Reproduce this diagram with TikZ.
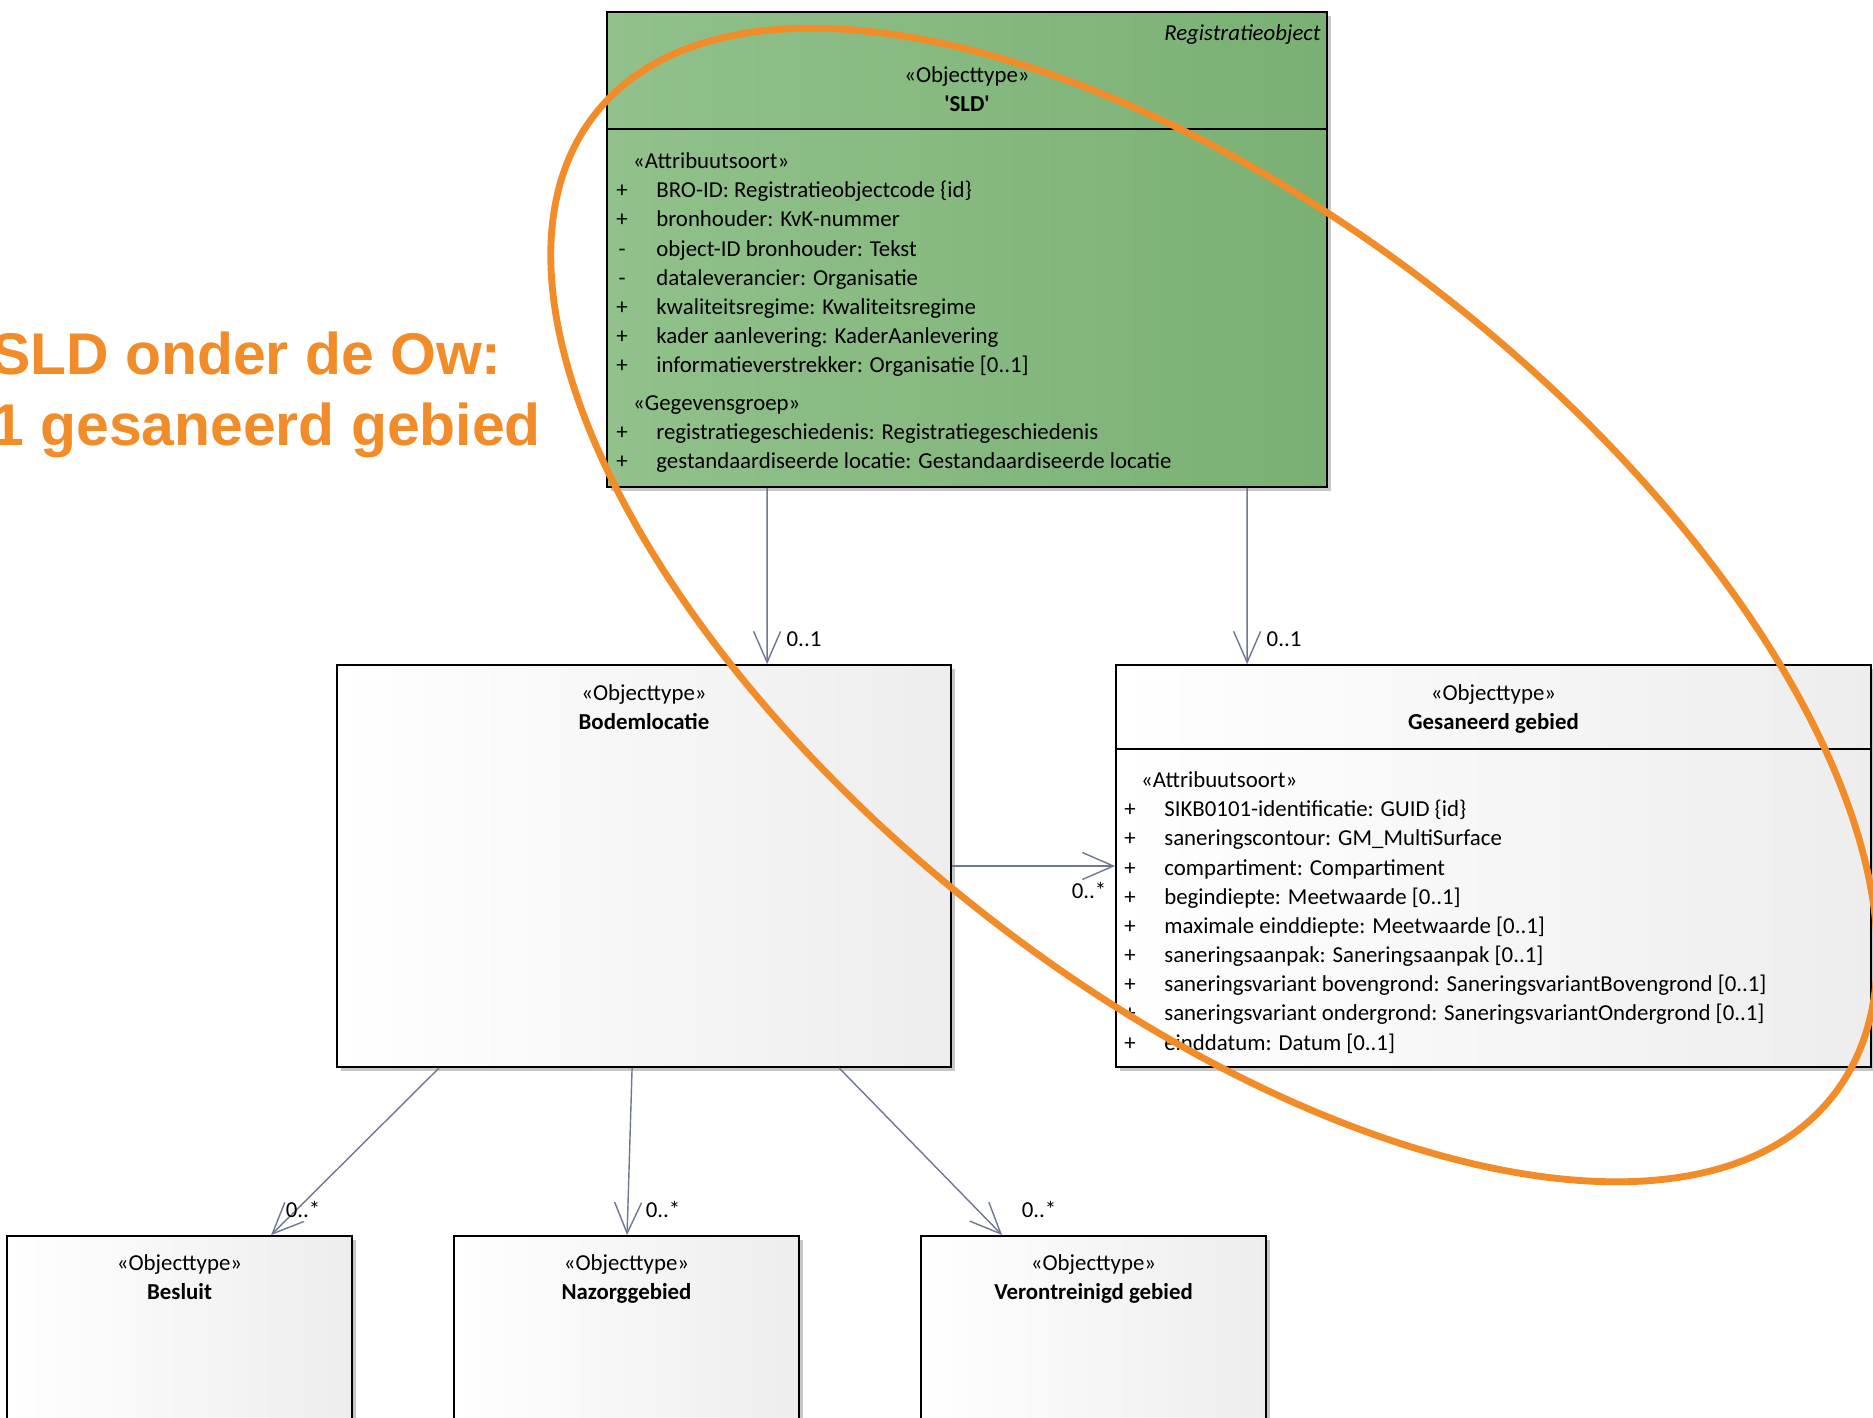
\documentclass[tikz,border=0pt]{standalone}
\usepackage{fontspec}
\setmainfont{Carlito}
\newfontfamily\slidefont{Liberation Sans}
\usepackage{tikz}
\usetikzlibrary{positioning}
\usetikzlibrary{arrows.meta}
\usetikzlibrary{calc}
\usetikzlibrary{shadows}
\usepackage{xcolor}
\definecolor{sldlight}{RGB}{146,193,140}
\definecolor{slddark}{RGB}{122,176,116}
\definecolor{assocgray}{RGB}{110,120,146}
\definecolor{accent}{RGB}{242,140,40}

\newcommand{\umlhead}[2]{\begin{tabular}[t]{@{}c@{}}«#1»\\\textbf{#2}\end{tabular}}

\begin{document}
\begin{tikzpicture}[
  x=0.02cm, y=-0.02cm,
  font=\fontsize{13}{16.6}\selectfont,
  class/.style={draw, line width=1.1pt, inner sep=0pt, left color=white, right color=black!7,
    drop shadow={shadow xshift=2.5pt, shadow yshift=-2.5pt, fill=black!22, opacity=1}},
  greenclass/.style={class, left color=sldlight, right color=slddark},
  head/.style={anchor=base, inner sep=0pt},
  attrs/.style={anchor=base west, inner sep=0pt},
  assoc/.style={-{Straight Barb[length=0.62cm, width=0.54cm]}, draw=assocgray, line width=0.8pt},
  mult/.style={inner sep=0pt},
  slogan/.style={anchor=base west, inner sep=0pt, text=accent, font=\slidefont\bfseries\fontsize{33.5}{40}\selectfont},
  ring/.style={draw=accent, line width=3.9pt}
]
\useasboundingbox[fill=white] (0,0) rectangle (1873,1417);

% classes
\node[greenclass, minimum width=14.4cm, minimum height=9.5cm] (sld) at (967,249.5) {};
\node[class, minimum width=12.28cm, minimum height=8.04cm] (bodem) at (644,866) {};
\node[class, minimum width=15.1cm, minimum height=8.04cm] (gesan) at (1493.5,866) {};
\node[class, minimum width=6.9cm, minimum height=4cm] (besluit) at (179.5,1336) {};
\node[class, minimum width=6.9cm, minimum height=4cm] (nazorg) at (626.5,1336) {};
\node[class, minimum width=6.9cm, minimum height=4cm] (veront) at (1093.5,1336) {};

\draw[line width=1.1pt] (sld.west |- 0,129) -- (sld.east |- 0,129);
\draw[line width=1.1pt] (gesan.west |- 0,749) -- (gesan.east |- 0,749);

% headers
\node[head, anchor=base east] (sldtag) at (1321,40) {\textit{Registratieobject}};
\node[head] (sldname) at (967,82.5) {\umlhead{Objecttype}{\textquotesingle SLD\textquotesingle}};
\node[head] (bodemname) at (644,700.5) {\umlhead{Objecttype}{Bodemlocatie}};
\node[head] (gesanname) at (1493.5,700.5) {\umlhead{Objecttype}{Gesaneerd gebied}};
\node[head] (besluitname) at (179.5,1270.5) {\umlhead{Objecttype}{Besluit}};
\node[head] (nazorgname) at (626.5,1270.5) {\umlhead{Objecttype}{Nazorggebied}};
\node[head] (verontname) at (1093.5,1270.5) {\umlhead{Objecttype}{Verontreinigd gebied}};

% attributes
\node[attrs] (sldattr) at (616,168.5) {\begin{tabular}[t]{@{}c@{\hspace{16.3pt}}l@{}}
\multicolumn{2}{@{\hspace{9.6pt}}l@{}}{«Attribuutsoort»}\\
+ & BRO-ID: Registratieobjectcode \{id\}\\
+ & bronhouder: KvK-nummer\\
- & object-ID bronhouder: Tekst\\
- & dataleverancier: Organisatie\\
+ & kwaliteitsregime: Kwaliteitsregime\\
+ & kader aanlevering: KaderAanlevering\\
+ & informatieverstrekker: Organisatie [0..1]\\[5pt]
\multicolumn{2}{@{\hspace{9.6pt}}l@{}}{«Gegevensgroep»}\\
+ & registratiegeschiedenis: Registratiegeschiedenis\\
+ & gestandaardiseerde locatie: Gestandaardiseerde locatie
\end{tabular}};

\node[attrs] (gesanattr) at (1124,787.5) {\begin{tabular}[t]{@{}c@{\hspace{16.3pt}}l@{}}
\multicolumn{2}{@{\hspace{9.6pt}}l@{}}{«Attribuutsoort»}\\
+ & SIKB0101-identificatie: GUID \{id\}\\
+ & saneringscontour: GM\_MultiSurface\\
+ & compartiment: Compartiment\\
+ & begindiepte: Meetwaarde [0..1]\\
+ & maximale einddiepte: Meetwaarde [0..1]\\
+ & saneringsaanpak: Saneringsaanpak [0..1]\\
+ & saneringsvariant bovengrond: SaneringsvariantBovengrond [0..1]\\
+ & saneringsvariant ondergrond: SaneringsvariantOndergrond [0..1]\\
+ & einddatum: Datum [0..1]
\end{tabular}};

% associations
\draw[assoc] ($(sld.south west)+(161,0)$) -- ($(bodem.north west)+(431,0)$);
\draw[assoc] ($(sld.south west)+(641,0)$) -- ($(gesan.north west)+(132,0)$);
\draw[assoc] (bodem.east) -- (gesan.west);
\draw[assoc] ($(bodem.south west)+(103,0)$) -- ($(besluit.north west)+(265,0)$);
\draw[assoc] ($(bodem.south west)+(296,0)$) -- ($(nazorg.north west)+(174,0)$);
\draw[assoc] ($(bodem.south west)+(503,0)$) -- ($(veront.north west)+(82,0)$);

\node[mult] (m1) at (804,639) {0..1};
\node[mult] (m2) at (1284,639) {0..1};
\node[mult] (m3) at (1089,890) {0..*};
\node[mult] (m4) at (303,1209) {0..*};
\node[mult] (m5) at (663,1209) {0..*};
\node[mult] (m6) at (1039,1209) {0..*};

% slide annotation
\node[slogan] (title1) at (-9,374) {SLD onder de Ow:};
\node[slogan] (title2) at (-9,445) {1 gesaneerd gebied};
\draw[ring, rotate around={-38.5:(1214,605)}] (1214,605) ellipse [x radius=790, y radius=385];

\end{tikzpicture}
\end{document}
